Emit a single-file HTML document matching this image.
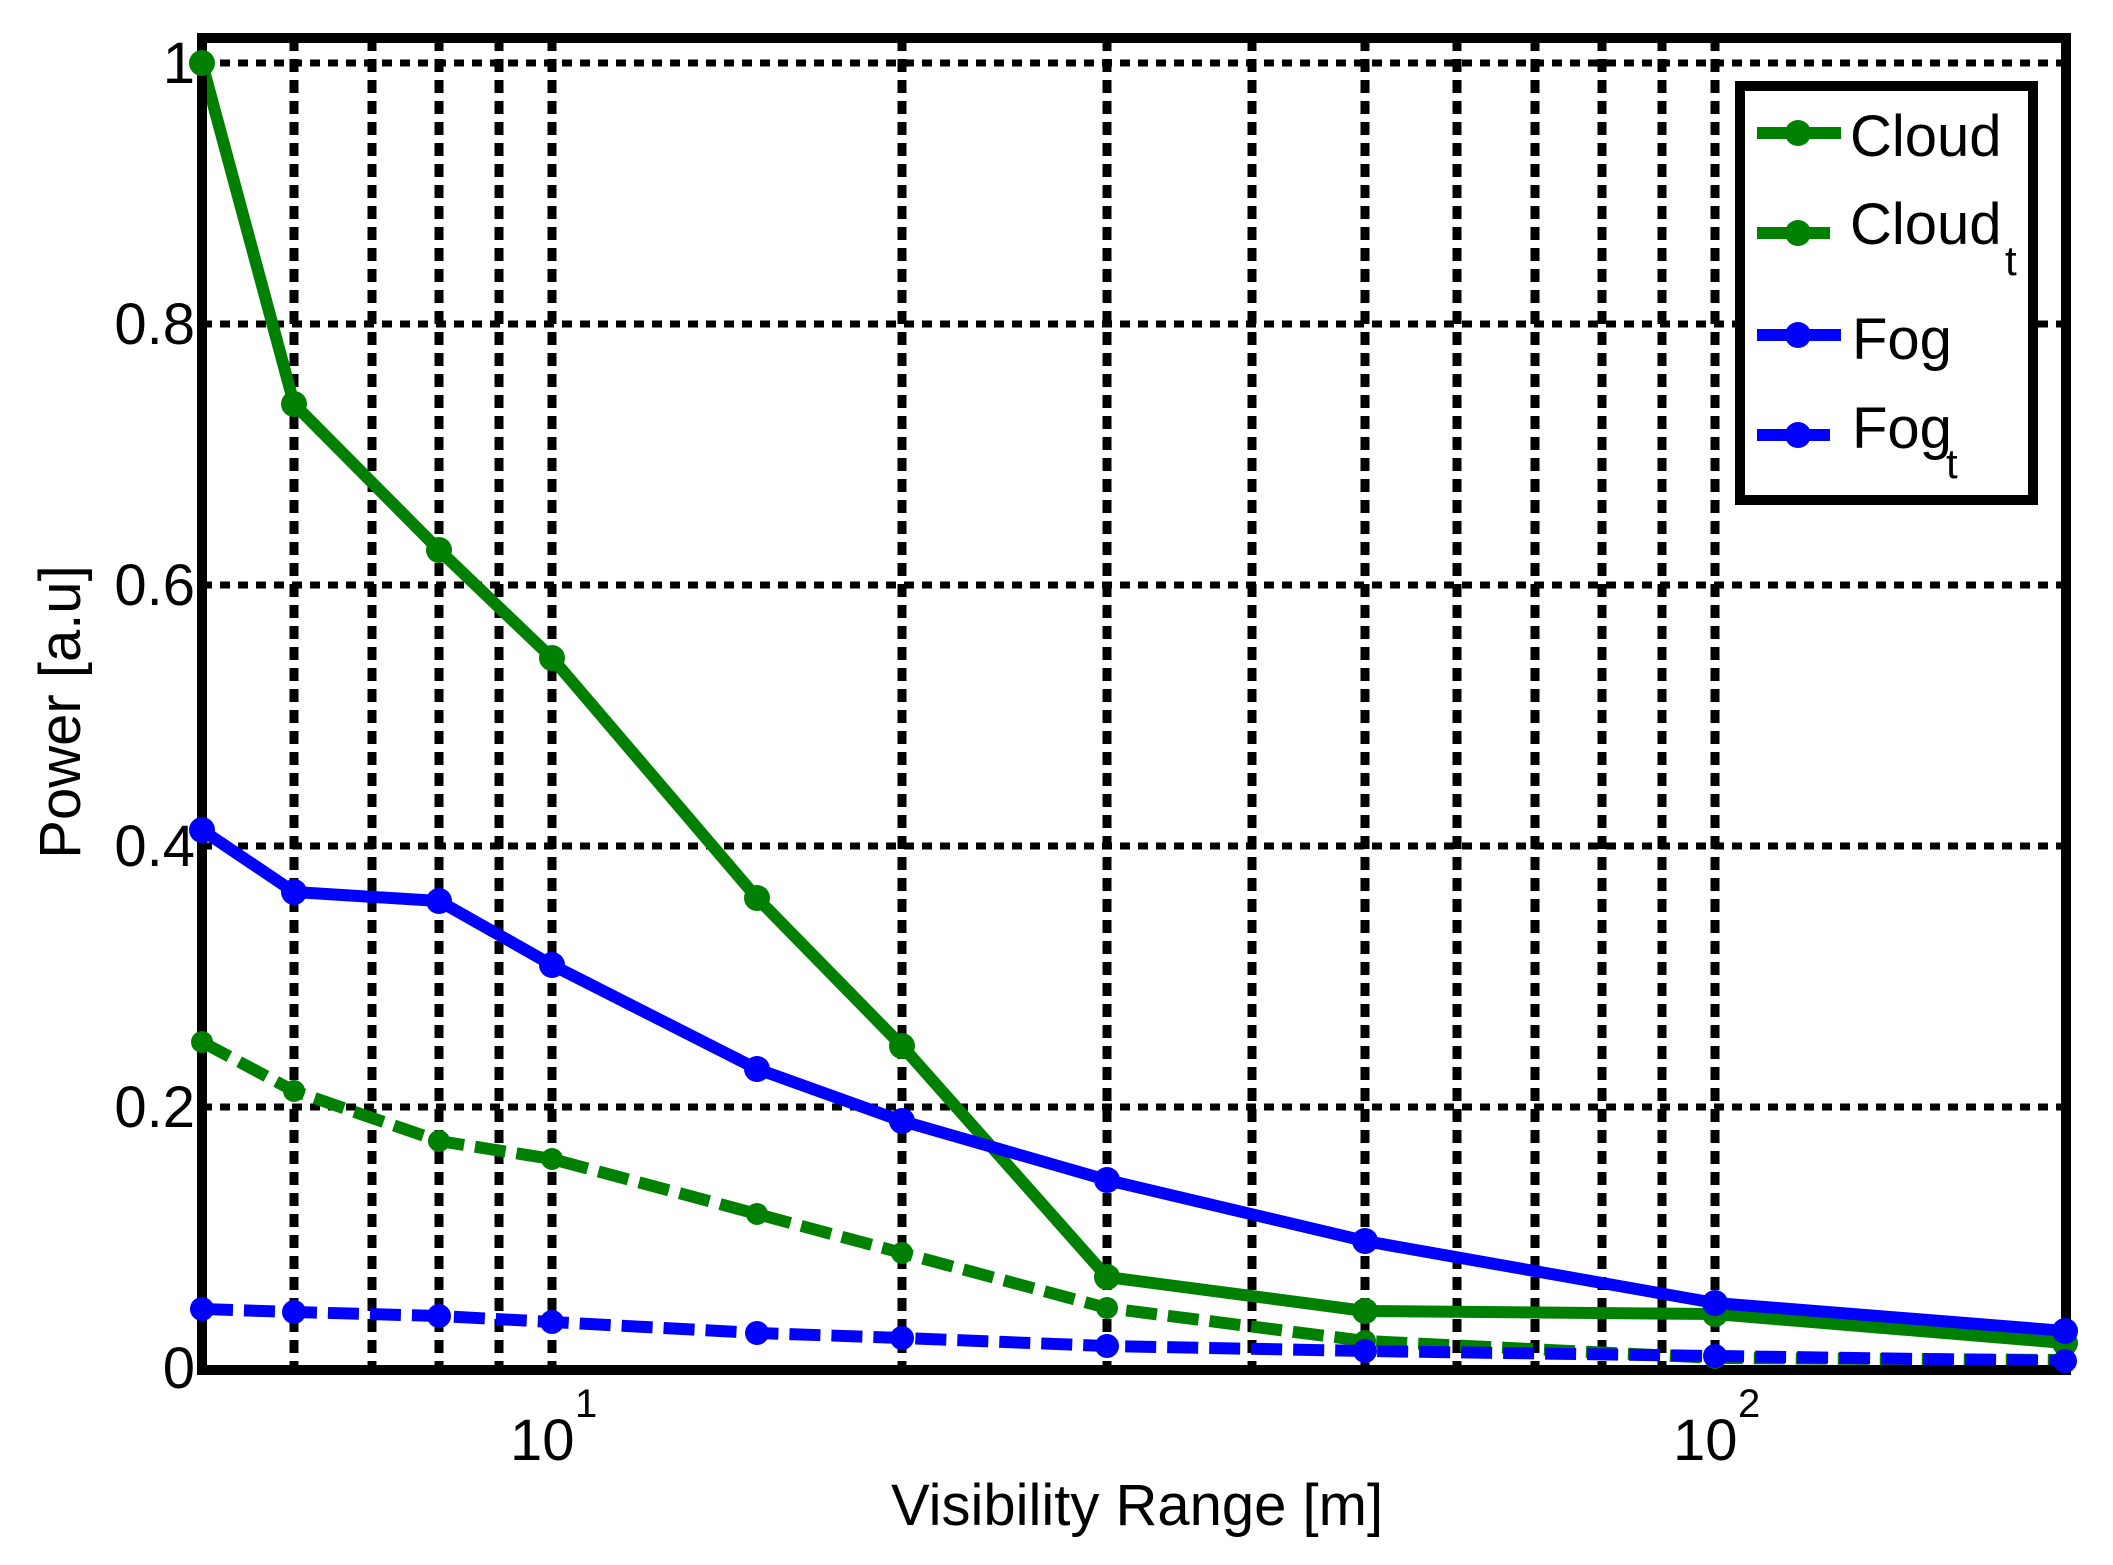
<!DOCTYPE html>
<html><head><meta charset="utf-8"><style>html,body{margin:0;padding:0;background:#fff}svg{display:block}</style></head>
<body>
<svg width="2113" height="1565" viewBox="0 0 2113 1565" xmlns="http://www.w3.org/2000/svg" font-family="Liberation Sans, sans-serif">
<defs><clipPath id="c"><rect x="202" y="38" width="1864" height="1332"/></clipPath></defs>
<rect width="2113" height="1565" fill="#fff"/>
<g stroke="#000" stroke-width="7" stroke-dasharray="10 8" fill="none">
<line x1="202" y1="63" x2="2066" y2="63"/>
<line x1="202" y1="324" x2="2066" y2="324"/>
<line x1="202" y1="585" x2="2066" y2="585"/>
<line x1="202" y1="846" x2="2066" y2="846"/>
<line x1="202" y1="1107" x2="2066" y2="1107"/>
</g>
<g stroke="#000" stroke-width="9" stroke-dasharray="13 8" fill="none">
<line x1="294" y1="38" x2="294" y2="1370"/>
<line x1="372" y1="38" x2="372" y2="1370"/>
<line x1="439" y1="38" x2="439" y2="1370"/>
<line x1="499" y1="38" x2="499" y2="1370"/>
<line x1="552" y1="38" x2="552" y2="1370"/>
<line x1="902" y1="38" x2="902" y2="1370"/>
<line x1="1107" y1="38" x2="1107" y2="1370"/>
<line x1="1252" y1="38" x2="1252" y2="1370"/>
<line x1="1365" y1="38" x2="1365" y2="1370"/>
<line x1="1457" y1="38" x2="1457" y2="1370"/>
<line x1="1535" y1="38" x2="1535" y2="1370"/>
<line x1="1602" y1="38" x2="1602" y2="1370"/>
<line x1="1662" y1="38" x2="1662" y2="1370"/>
<line x1="1715" y1="38" x2="1715" y2="1370"/>
</g>
<g clip-path="url(#c)" stroke-linejoin="round">
<polyline fill="none" stroke="#008000" stroke-width="12" stroke-dasharray="31 11" points="202,1042 294,1091 439,1141 552,1159 757,1214 902,1253 1107,1308 1365,1341 1715,1358 2065,1360"/>
<polyline fill="none" stroke="#008000" stroke-width="12" points="202,63 294,404 439,550 552,658 757,898 902,1046 1107,1277 1365,1311 1715,1314 2065,1343"/>
<polyline fill="none" stroke="#0000ff" stroke-width="12" stroke-dasharray="31 11" points="202,1309 294,1312 439,1316 552,1322 757,1333 902,1338 1107,1346 1365,1351 1715,1356 2065,1361"/>
<polyline fill="none" stroke="#0000ff" stroke-width="12" points="202,830 294,892 439,901 552,965 757,1069 902,1121 1107,1180 1365,1241 1715,1303 2065,1331"/>
</g>
<rect x="202" y="38" width="1864" height="1332" fill="none" stroke="#000" stroke-width="10"/>
<g fill="#008000">
<circle cx="202" cy="1042" r="11"/><circle cx="294" cy="1091" r="11"/><circle cx="439" cy="1141" r="11"/><circle cx="552" cy="1159" r="11"/><circle cx="757" cy="1214" r="11"/><circle cx="902" cy="1253" r="11"/><circle cx="1107" cy="1308" r="11"/><circle cx="1365" cy="1341" r="11"/><circle cx="1715" cy="1358" r="11"/><circle cx="2065" cy="1360" r="11"/>
<circle cx="202" cy="63" r="13"/><circle cx="294" cy="404" r="13"/><circle cx="439" cy="550" r="13"/><circle cx="552" cy="658" r="13"/><circle cx="757" cy="898" r="13"/><circle cx="902" cy="1046" r="13"/><circle cx="1107" cy="1277" r="13"/><circle cx="1365" cy="1311" r="13"/><circle cx="1715" cy="1314" r="13"/><circle cx="2065" cy="1343" r="13"/>
</g>
<g fill="#0000ff">
<circle cx="202" cy="1309" r="12"/><circle cx="294" cy="1312" r="12"/><circle cx="439" cy="1316" r="12"/><circle cx="552" cy="1322" r="12"/><circle cx="757" cy="1333" r="12"/><circle cx="902" cy="1338" r="12"/><circle cx="1107" cy="1346" r="12"/><circle cx="1365" cy="1351" r="12"/><circle cx="1715" cy="1356" r="12"/><circle cx="2065" cy="1361" r="12"/>
<circle cx="202" cy="830" r="13"/><circle cx="294" cy="892" r="13"/><circle cx="439" cy="901" r="13"/><circle cx="552" cy="965" r="13"/><circle cx="757" cy="1069" r="13"/><circle cx="902" cy="1121" r="13"/><circle cx="1107" cy="1180" r="13"/><circle cx="1365" cy="1241" r="13"/><circle cx="1715" cy="1303" r="13"/><circle cx="2065" cy="1331" r="13"/>
</g>
<g font-size="58" fill="#000" text-anchor="end">
<text x="195" y="83">1</text>
<text x="195" y="344">0.8</text>
<text x="195" y="605">0.6</text>
<text x="195" y="866">0.4</text>
<text x="195" y="1127">0.2</text>
<text x="195" y="1388">0</text>
</g>
<g font-size="58" fill="#000">
<text x="510" y="1460">10</text><text x="575" y="1417" font-size="40">1</text>
<text x="1673" y="1460">10</text><text x="1738" y="1417" font-size="40">2</text>
<text x="1137" y="1525" text-anchor="middle">Visibility Range [m]</text>
<text transform="translate(80,712) rotate(-90)" text-anchor="middle">Power [a.u]</text>
</g>
<rect x="1740" y="86" width="293" height="414" fill="#fff" stroke="#000" stroke-width="10"/>
<g stroke-width="12">
<line x1="1757" y1="133" x2="1841" y2="133" stroke="#008000"/>
<line x1="1757" y1="233" x2="1830" y2="233" stroke="#008000"/>
<line x1="1757" y1="335" x2="1841" y2="335" stroke="#0000ff"/>
<line x1="1757" y1="435" x2="1830" y2="435" stroke="#0000ff"/>
</g>
<circle cx="1798" cy="133" r="13" fill="#008000"/>
<circle cx="1798" cy="233" r="13" fill="#008000"/>
<circle cx="1798" cy="335" r="13" fill="#0000ff"/>
<circle cx="1798" cy="435" r="13" fill="#0000ff"/>
<g font-size="58" fill="#000">
<text x="1850" y="156">Cloud</text>
<text x="1850" y="244">Cloud</text><text x="2005" y="275" font-size="42">t</text>
<text x="1852" y="359">Fog</text>
<text x="1852" y="448">Fog</text><text x="1946" y="478" font-size="42">t</text>
</g>
</svg>
</body></html>
